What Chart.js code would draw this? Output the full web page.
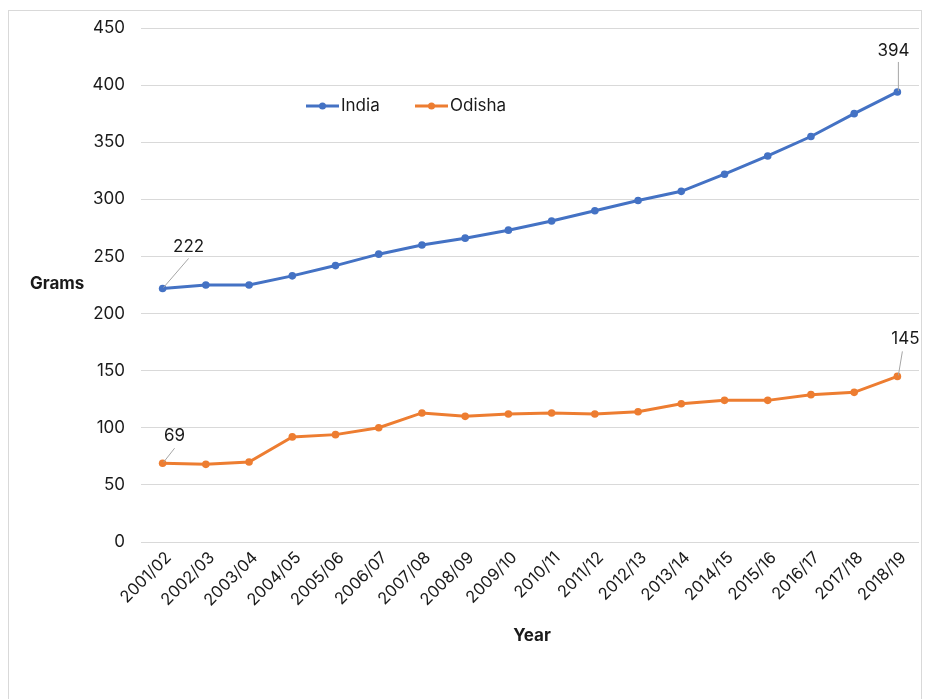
<!DOCTYPE html>
<html>
<head>
<meta charset="utf-8">
<script src="https://cdn.jsdelivr.net/npm/chart.js@4.4.0/dist/chart.umd.min.js"></script>
<style>
  html, body { margin: 0; padding: 0; background: #fff; }
  #wrap { position: relative; width: 927px; height: 699px; }
  #frame { position: absolute; left: 8px; top: 10px; width: 914px; height: 700px; border: 1px solid #d9d9d9; box-sizing: border-box; }
  canvas { position: absolute; left: 0; top: 0; }
</style>
</head>
<body>
<div id="wrap">
  <div id="frame"></div>
  <canvas id="c" width="927" height="699"></canvas>
</div>
<script>
const years = ["2001/02","2002/03","2003/04","2004/05","2005/06","2006/07","2007/08","2008/09","2009/10","2010/11","2011/12","2012/13","2013/14","2014/15","2015/16","2016/17","2017/18","2018/19"];
const india = [222, 225, 225, 233, 242, 252, 260, 266, 273, 281, 290, 299, 307, 322, 338, 355, 375, 394];
const odisha = [69, 68, 70, 92, 94, 100, 113, 110, 112, 113, 112, 114, 121, 124, 124, 129, 131, 145];
const yTicks = [0, 50, 100, 150, 200, 250, 300, 350, 400, 450];

const FONT = "Inter, 'Open Sans', sans-serif";
const BLUE = "#4472C4";
const ORANGE = "#ED7D31";

// Data labels: [datasetIndex, pointIndex, label dx, label dy, leader end dx, leader end dy]
const callouts = [
  [0, 0, 26, -42, 26, -30],
  [0, 17, -4, -41, 1, -30],
  [1, 0, 12, -27, 12, -15],
  [1, 17, 8, -37, 5, -25]
];

const decor = {
  id: 'decor',
  afterDatasetsDraw(chart) {
    const ctx = chart.ctx;
    ctx.save();
    callouts.forEach(([ds, i, lx, ly, ex, ey]) => {
      const p = chart.getDatasetMeta(ds).data[i];
      const v = chart.data.datasets[ds].data[i];
      ctx.strokeStyle = '#a6a6a6';
      ctx.lineWidth = 1;
      ctx.beginPath();
      ctx.moveTo(p.x + 1, p.y - 1);
      ctx.lineTo(p.x + ex, p.y + ey);
      ctx.stroke();
      ctx.fillStyle = '#1a1a1a';
      ctx.font = "17px " + FONT;
      ctx.textAlign = 'center';
      ctx.textBaseline = 'middle';
      ctx.fillText(String(v), p.x + lx, p.y + ly);
    });
    const items = [[chart.data.datasets[0], 306], [chart.data.datasets[1], 415]];
    const ly = 106;
    items.forEach(([d, x]) => {
      ctx.strokeStyle = d.borderColor;
      ctx.lineWidth = 3;
      ctx.beginPath();
      ctx.moveTo(x, ly);
      ctx.lineTo(x + 33, ly);
      ctx.stroke();
      ctx.fillStyle = d.borderColor;
      ctx.beginPath();
      ctx.arc(x + 16.5, ly, 3.5, 0, Math.PI * 2);
      ctx.fill();
      ctx.fillStyle = '#1a1a1a';
      ctx.font = "17px " + FONT;
      ctx.textAlign = 'left';
      ctx.textBaseline = 'middle';
      ctx.fillText(d.label, x + 35, ly);
    });
    ctx.fillStyle = '#1a1a1a';
    ctx.font = "bold 17px " + FONT;
    ctx.textAlign = 'left';
    ctx.textBaseline = 'middle';
    ctx.fillText('Grams', 30, 284);
    ctx.textAlign = 'center';
    ctx.fillText('Year', 532, 636);
    ctx.restore();
  }
};

new Chart(document.getElementById('c'), {
  type: 'line',
  data: {
    labels: years,
    datasets: [
      { label: 'India', data: india, borderColor: BLUE, backgroundColor: BLUE, borderWidth: 3, pointRadius: 3.8, pointHoverRadius: 3.8, pointBackgroundColor: BLUE, pointBorderWidth: 0, tension: 0 },
      { label: 'Odisha', data: odisha, borderColor: ORANGE, backgroundColor: ORANGE, borderWidth: 3, pointRadius: 3.8, pointHoverRadius: 3.8, pointBackgroundColor: ORANGE, pointBorderWidth: 0, tension: 0 }
    ]
  },
  options: {
    responsive: false,
    animation: false,
    devicePixelRatio: 1,
    layout: { padding: { top: 28, right: 8, left: 0, bottom: 0 } },
    plugins: { legend: { display: false }, tooltip: { enabled: false } },
    scales: {
      x: {
        offset: true,
        grid: { display: false, drawTicks: false },
        border: { display: false },
        ticks: { color: '#1a1a1a', font: { family: FONT, size: 16.5 }, minRotation: 45, maxRotation: 45, autoSkip: false, padding: 6, labelOffset: 6 },
        afterFit(s) { s.height = 157; }
      },
      y: {
        min: 0, max: 450,
        afterBuildTicks(s) { s.ticks = yTicks.map(v => ({ value: v })); },
        grid: { color: '#d9d9d9', lineWidth: 1, drawTicks: false },
        border: { display: false },
        ticks: { color: '#1a1a1a', font: { family: FONT, size: 17 }, padding: 16 },
        afterFit(s) { s.width = 141; }
      }
    }
  },
  plugins: [decor]
});
</script>
</body>
</html>
